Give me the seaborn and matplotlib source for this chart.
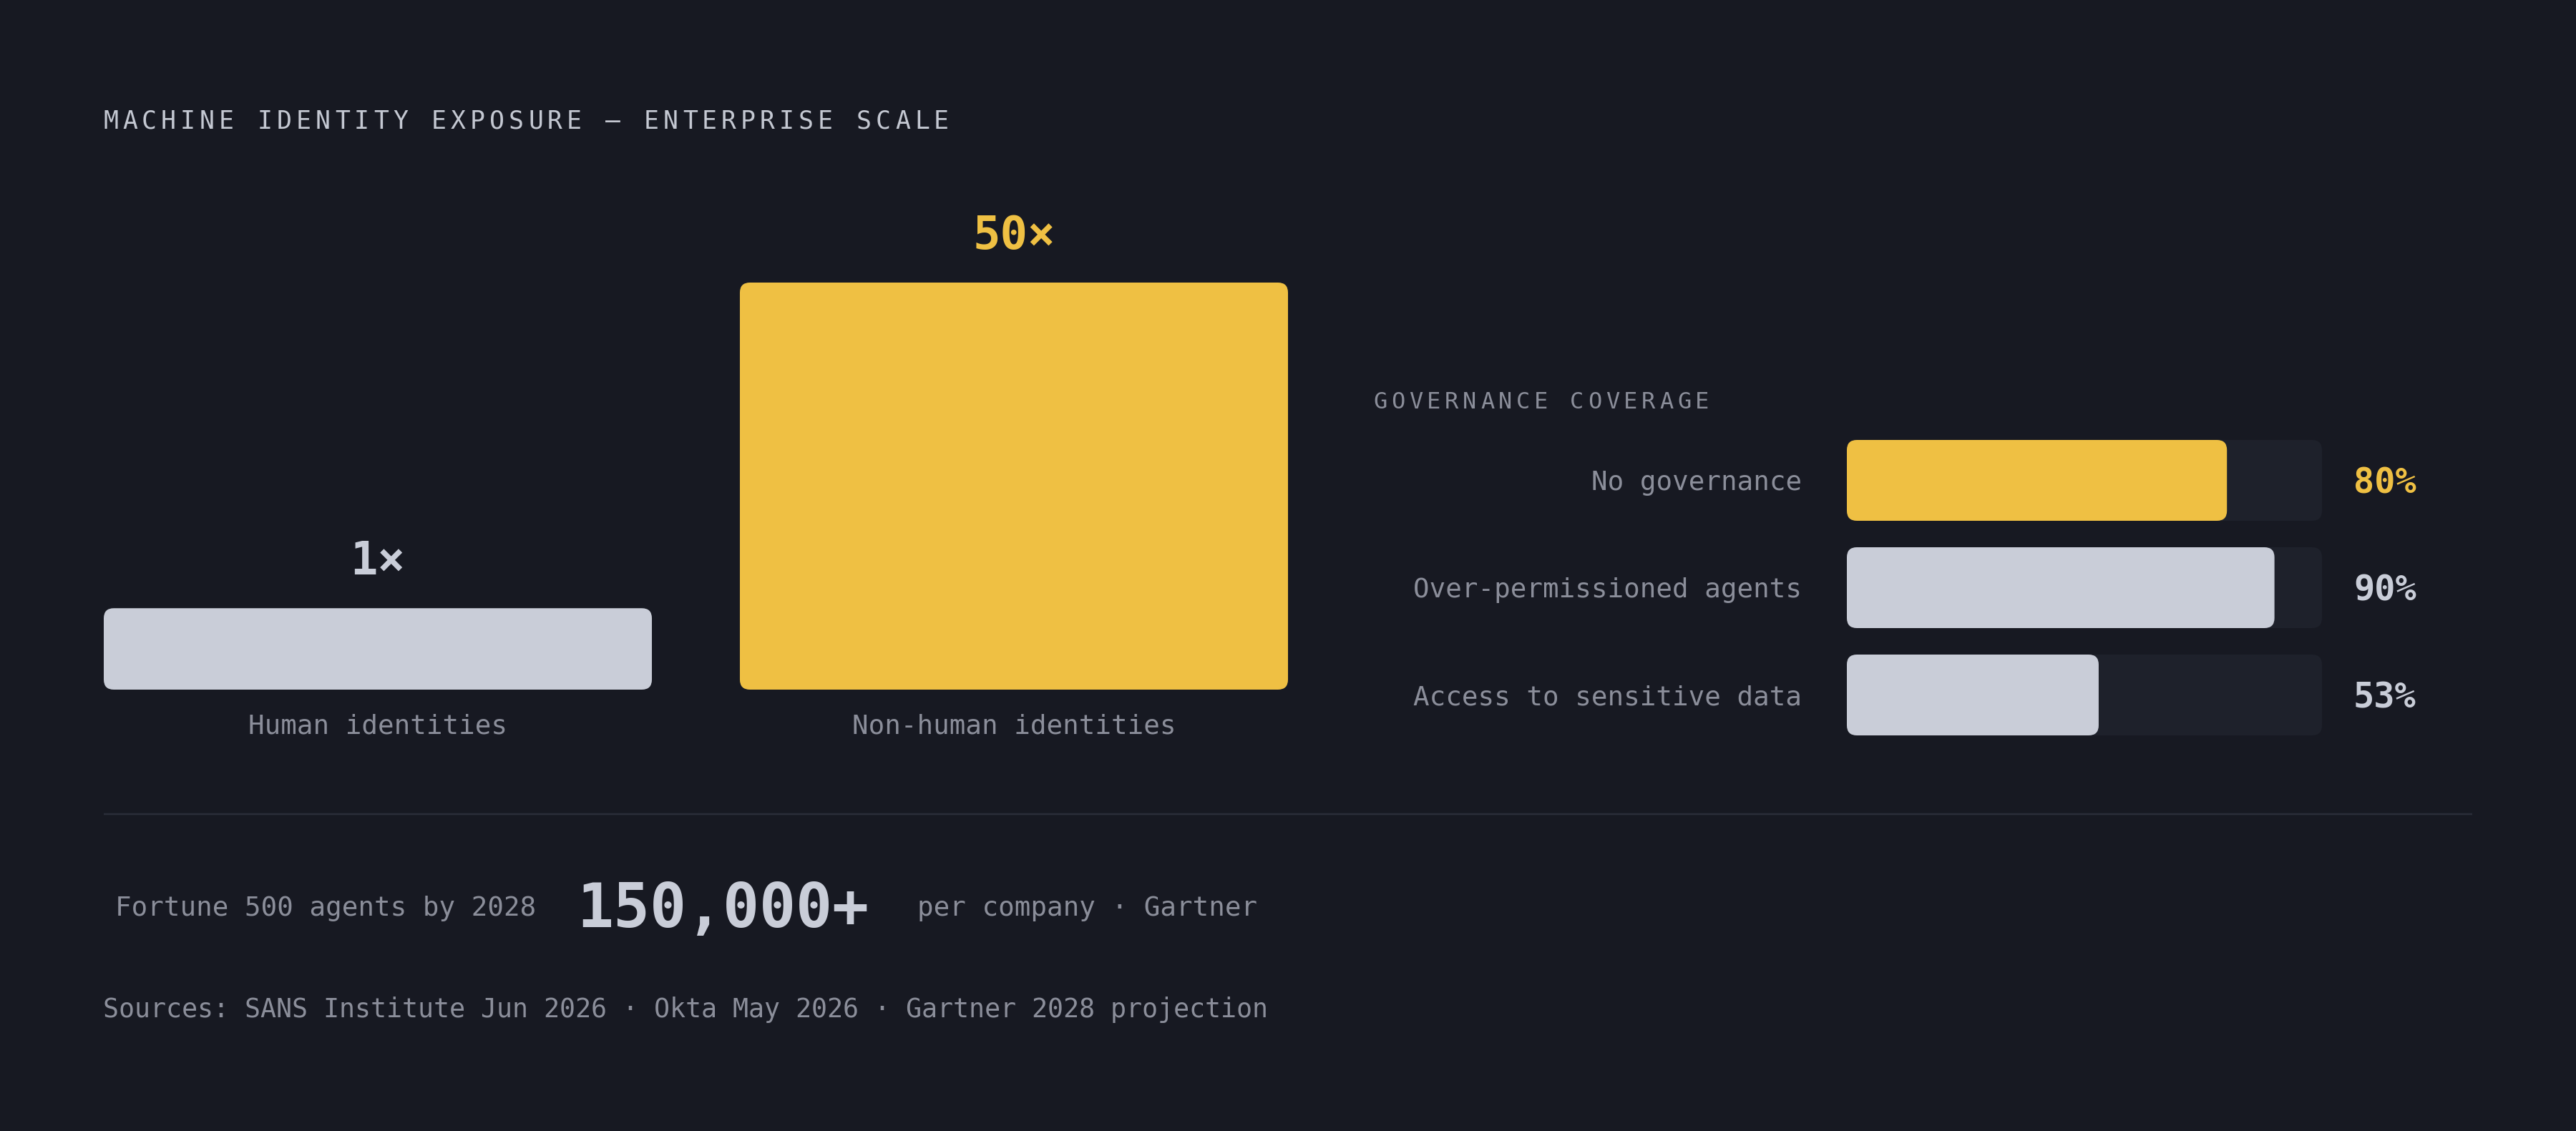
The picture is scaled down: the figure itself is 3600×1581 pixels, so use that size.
import numpy as np
import matplotlib
matplotlib.use("Agg")
import matplotlib.pyplot as plt
from matplotlib.patches import FancyBboxPatch
import seaborn as sns

# ---- data ----
identity_groups = ["Human identities", "Non-human identities"]
identity_ratio = [1, 50]
ratio_labels = ["1×", "50×"]

gov_items = ["No governance", "Over-permissioned agents", "Access to sensitive data"]
gov_pct = [80, 90, 53]
gov_labels = ["80%", "90%", "53%"]

title = "MACHINE IDENTITY EXPOSURE — ENTERPRISE SCALE"
gov_title = "GOVERNANCE COVERAGE"
stat_before = "Fortune 500 agents by 2028"
stat_value = "150,000+"
stat_after = "per company · Gartner"
sources = "Sources: SANS Institute Jun 2026 · Okta May 2026 · Gartner 2028 projection"

# ---- style ----
BG = "#171922"
TRACK = "#1e212b"
YELLOW = "#efc043"
LIGHT = "#c9cdd8"
TITLE_C = "#c4c8d2"
GRAY = "#8b8e9a"
SEP = "#2a2d39"
MIN_SHARE = 0.2   # smallest bar drawn as a share of the tallest one

W, H, DPI = 3600, 1581, 100
PT = 72 / DPI     # points per pixel

sns.set_theme(style="white")
plt.rcParams["font.family"] = ["DejaVu Sans Mono", "DejaVu Sans"]

fig = plt.figure(figsize=(W / DPI, H / DPI), dpi=DPI, facecolor=BG)


def box(l, t, r, b):
    return [l / W, 1 - b / H, (r - l) / W, (b - t) / H]


def round_bars(ax, r_px):
    (x0, y0), (x1, y1) = ax.transData.transform([(0, 0), (1, 1)])
    ux, uy = 1 / abs(x1 - x0), 1 / abs(y1 - y0)
    for p in list(ax.patches):
        x, y, w, h = p.get_x(), p.get_y(), p.get_width(), p.get_height()
        fc = p.get_facecolor()
        p.remove()
        ax.add_patch(FancyBboxPatch((x, y), w, h,
                                    boxstyle=f"round,pad=0,rounding_size={r_px * ux}",
                                    mutation_aspect=uy / ux, fc=fc, ec="none"))


canvas = fig.add_axes([0, 0, 1, 1])
canvas.set_xlim(0, W)
canvas.set_ylim(H, 0)
canvas.axis("off")


def spaced(x, y, s, size, color, step):
    adv = 0.602 * size / PT
    for i, ch in enumerate(s):
        canvas.text(x + adv / 2 + i * step, y, ch, fontsize=size, color=color,
                    ha="center", va="baseline")


spaced(144, 180, title, 25, TITLE_C, 27.0)

# ---- left: identity ratio bars ----
ax1 = fig.add_axes(box(145, 395, 1800, 964))
bw = 0.8617
shown = np.maximum(identity_ratio, MIN_SHARE * max(identity_ratio))
sns.barplot(x=identity_groups, y=shown, hue=identity_groups,
            palette=[LIGHT, YELLOW], width=bw, saturation=1, legend=False, ax=ax1)
ax1.set_xlim(-bw / 2, 1 + bw / 2)
ax1.set_ylim(0, max(identity_ratio))
ax1.set_axis_off()
round_bars(ax1, 14)
for i, (lab, grp) in enumerate(zip(ratio_labels, identity_groups)):
    c = YELLOW if i == 1 else LIGHT
    ax1.annotate(lab, xy=(i, shown[i]), xytext=(0, 47 * PT), textcoords="offset points",
                 ha="center", va="baseline", fontsize=46, fontweight="bold", color=c,
                 annotation_clip=False)
    ax1.annotate(grp, xy=(i, 0), xytext=(0, -62 * PT), textcoords="offset points",
                 ha="center", va="baseline", fontsize=27, color=GRAY,
                 annotation_clip=False)

# ---- right: governance coverage ----
spaced(1919, 571, gov_title, 23, GRAY, 25.0)

ax2 = fig.add_axes(box(2581, 615, 3245, 1028))
bh = 113 / 150
sns.barplot(x=[100] * len(gov_items), y=gov_items, color=TRACK, width=bh,
            orient="h", saturation=1, ax=ax2)
sns.barplot(x=gov_pct, y=gov_items, hue=gov_items, palette=[YELLOW, LIGHT, LIGHT],
            width=bh, orient="h", saturation=1, legend=False, ax=ax2)
ax2.set_xlim(0, 100)
ax2.set_ylim(len(gov_items) - 1 + bh / 2, -bh / 2)
ax2.set_axis_off()
round_bars(ax2, 14)
for i, (item, lab) in enumerate(zip(gov_items, gov_labels)):
    c = YELLOW if i == 0 else LIGHT
    ax2.annotate(item, xy=(0, i), xytext=(-63 * PT, -13.7 * PT), textcoords="offset points",
                 ha="right", va="baseline", fontsize=27, color=GRAY, annotation_clip=False)
    ax2.annotate(lab, xy=(100, i), xytext=(44 * PT, -17.7 * PT), textcoords="offset points",
                 ha="left", va="baseline", fontsize=35, fontweight="bold", color=c,
                 annotation_clip=False)

# ---- separator + footer ----
canvas.plot([145, 3455], [1138, 1138], color=SEP, lw=2.5 * PT, solid_capstyle="butt")
canvas.text(161, 1280, stat_before, fontsize=27, color=GRAY, va="baseline")
canvas.text(806, 1296, stat_value, fontsize=61, fontweight="bold", color=LIGHT, va="baseline")
canvas.text(1282, 1280, stat_after, fontsize=27, color=GRAY, va="baseline")
canvas.text(144, 1422, sources, fontsize=26.4, color=GRAY, va="baseline")

fig.savefig("out.png", dpi=DPI, facecolor=BG)
